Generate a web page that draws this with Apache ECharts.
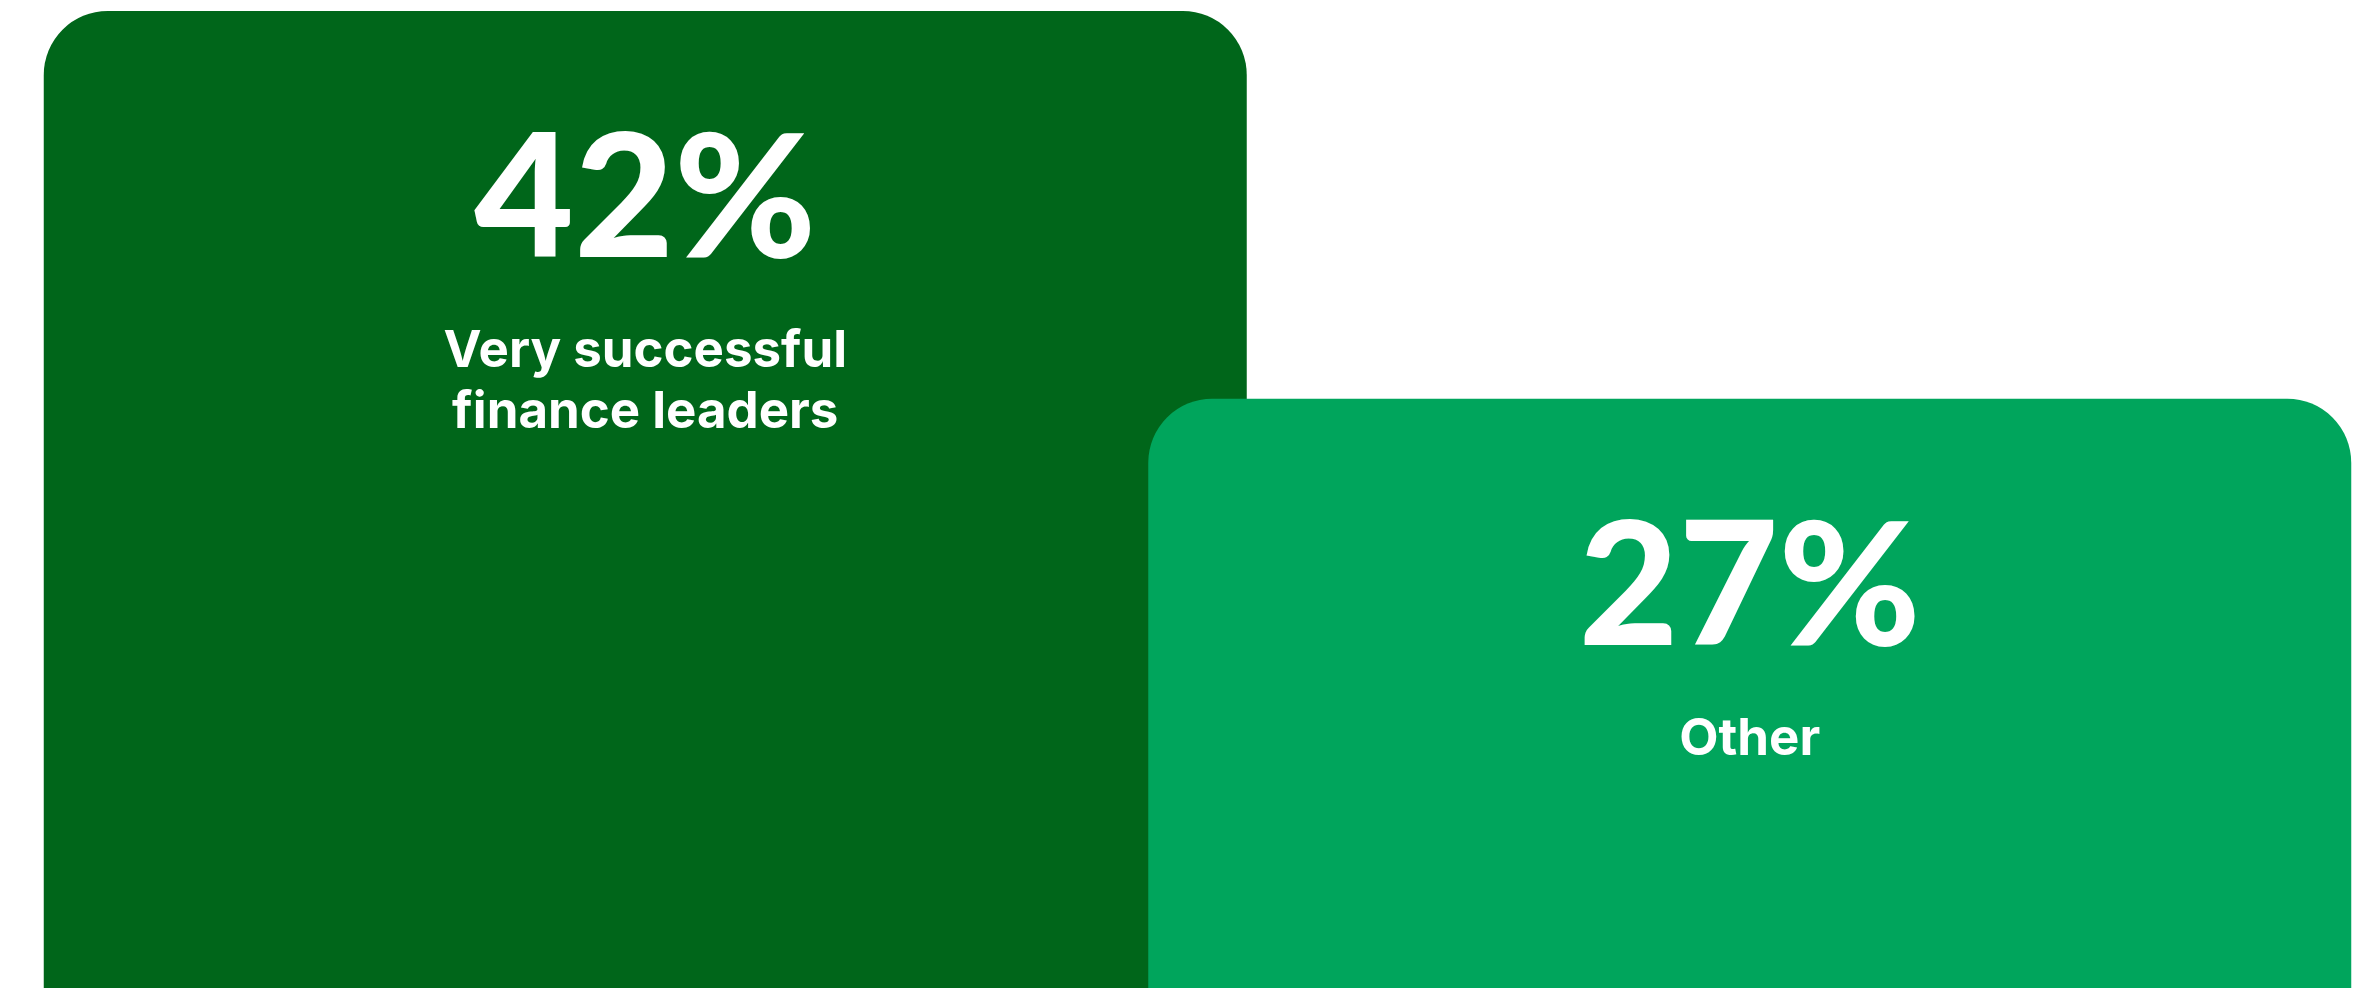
<!DOCTYPE html>
<html>
<head>
<meta charset="utf-8">
<script src="https://cdn.jsdelivr.net/npm/echarts@6/dist/echarts.min.js"></script>
<style>
  html, body { margin: 0; padding: 0; background: #fff; }
  #chart { width: 2372px; height: 988px; }
</style>
</head>
<body>
<div id="chart"></div>
<script>
// chart data
const categories = ['Very successful\nfinance leaders', 'Other']
const values = [42, 27]
const barColors = ['#00661a', '#00a55c']

let myChart = echarts.init(document.getElementById('chart'))
myChart.setOption({
  animation: false,
  grid: {
    left: 93,
    right: 70,
    top: 11,
    bottom: 0
  },
  xAxis: {
    type: 'category',
    data: categories,
    show: false
  },
  yAxis: {
    type: 'value',
    // bars run past the bottom edge of the picture
    min: 4.2,
    max: 42,
    show: false
  },
  series: [
    {
      type: 'bar',
      barWidth: 1203,
      clip: false,
      data: values.map((v, i) => ({
        value: v,
        itemStyle: { color: barColors[i] }
      })),
      itemStyle: {
        borderRadius: [64, 64, 0, 0]
      },
      label: {
        show: true,
        position: 'insideTop',
        distance: 72,
        align: 'center',
        formatter: p => '{a|' + p.value + '%}\n' +
          p.name.split('\n').map(s => '{b|' + s + '}').join('\n'),
        rich: {
          a: {
            fontFamily: 'Lato',
            fontWeight: 900,
            fontSize: 172,
            lineHeight: 238,
            color: '#fff'
          },
          b: {
            fontFamily: 'Inter',
            fontWeight: 700,
            fontSize: 51,
            lineHeight: 61,
            color: '#fff'
          }
        }
      }
    }
  ]
})
</script>
</body>
</html>
